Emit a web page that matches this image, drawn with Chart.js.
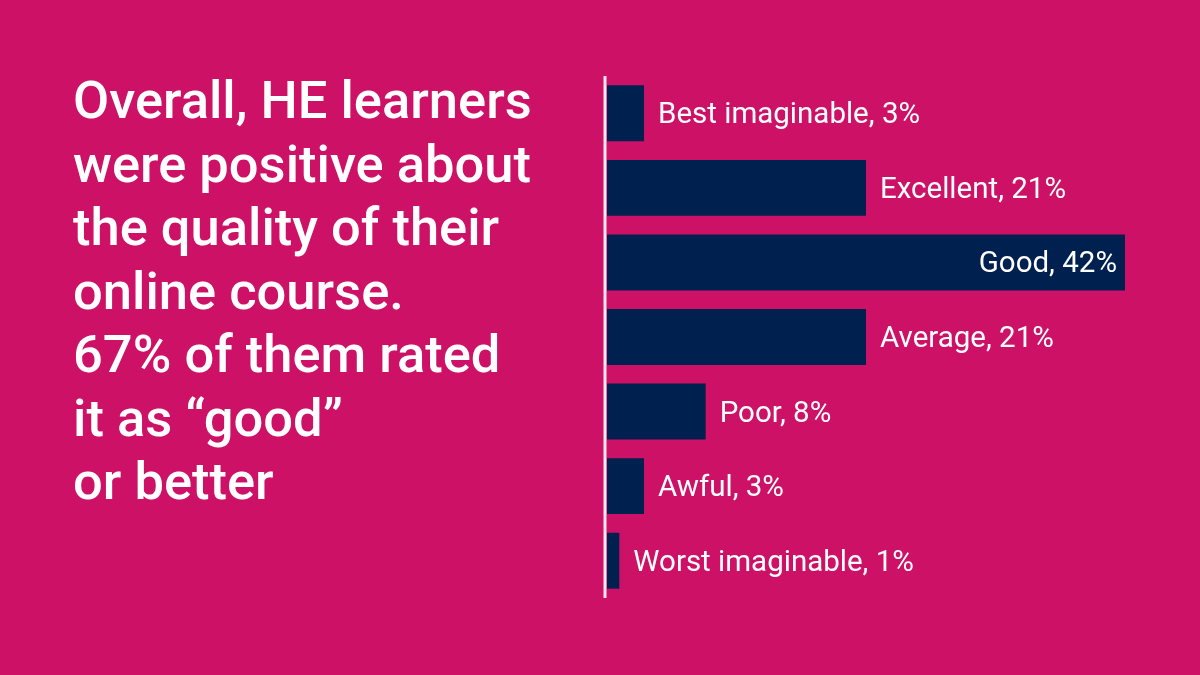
<!DOCTYPE html>
<html>
<head>
<meta charset="utf-8">
<script src="https://cdn.jsdelivr.net/npm/chart.js@4"></script>
<style>
	html, body { margin: 0; padding: 0; }
	body { width: 1200px; height: 675px; background: #cd1167; position: relative; overflow: hidden; font-family: Roboto, "Noto Sans", sans-serif; }
	#headline { position: absolute; left: 73px; top: 69px; width: 540px; color: #fff; font-size: 52.5px; font-weight: 500; line-height: 63.5px; }
	#wrap { position: absolute; left: 0; top: 0; width: 1200px; height: 675px; }
</style>
</head>
<body>
<div id="headline">Overall, HE learners<br>were positive about<br>the quality of their<br>online course.<br>67% of them rated<br>it as “good”<br>or better</div>
<div id="wrap"><canvas id="ratingChart"></canvas></div>
<script>
const ratingLabels = ["Best imaginable", "Excellent", "Good", "Average", "Poor", "Awful", "Worst imaginable"];
const ratingValues = [3, 21, 42, 21, 8, 3, 1];

let ratingChart;

// white axis line on the left edge of the bars
const axisLine = {
	id: 'axisLine',
	afterDatasetsDraw(chart){
		const ctx = chart.ctx;
		const x = chart.scales.x.getPixelForValue(0) - 2;
		ctx.save();
		ctx.strokeStyle = '#f6e6ee';
		ctx.lineWidth = 3;
		ctx.beginPath();
		ctx.moveTo(x, chart.chartArea.top);
		ctx.lineTo(x, chart.chartArea.bottom);
		ctx.stroke();
		ctx.restore();
	}
};

// "Label, n%" next to each bar, inside the bar when it would run off the page
const barLabels = {
	id: 'barLabels',
	afterDatasetsDraw(chart){
		const ctx = chart.ctx;
		const meta = chart.getDatasetMeta(0);
		ctx.save();
		ctx.font = '29.5px Roboto';
		ctx.fillStyle = '#ffffff';
		ctx.textBaseline = 'alphabetic';
		meta.data.forEach(function(bar, i){
			const text = ratingLabels[i] + ', ' + ratingValues[i] + '%';
			const w = ctx.measureText(text).width;
			const y = bar.y + 10;
			if (bar.x + 15 + w > chart.width - 10){
				ctx.textAlign = 'right';
				ctx.fillText(text, bar.x - 8, y);
			} else {
				ctx.textAlign = 'left';
				ctx.fillText(text, bar.x + 14, y);
			}
		});
		ctx.restore();
	}
};

function drawRatings(){
	if(ratingChart)
		ratingChart.destroy();
	const ctx = document.getElementById("ratingChart").getContext("2d");
	const data = {
		labels: ratingLabels,
		datasets: [
			{
				data: ratingValues,
				backgroundColor: '#00204f',
				borderWidth: 0,
				barPercentage: 0.75,
				categoryPercentage: 1,
			},
		],
	};
	let config = {
		type: 'bar',
		data: data,
		plugins: [axisLine, barLabels],
		options: {
			indexAxis: 'y',
			responsive: true,
			maintainAspectRatio: false,
			animation: false,
			layout: {
				padding: { left: 607, right: 75, top: 76, bottom: 77 },
			},
			plugins: {
				legend: { display: false },
				tooltip: { enabled: false },
			},
			scales: {
				x: { display: false, min: 0, max: 42 },
				y: { display: false },
			},
		},
	};
	ratingChart = new Chart(ctx, config);
}
drawRatings();
</script>
</body>
</html>
